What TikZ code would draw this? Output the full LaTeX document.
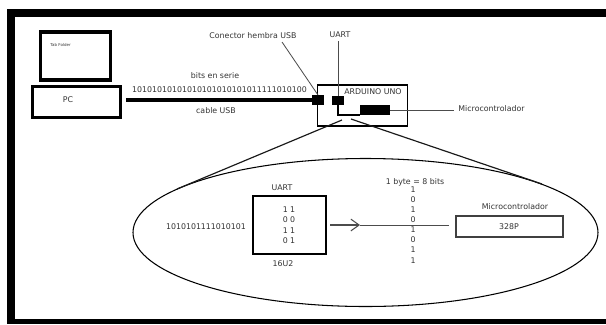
\documentclass[tikz,border=0pt]{standalone}
\usepackage{xcolor}
\usepackage{fontspec}
\setmainfont{DejaVu Sans}
\usetikzlibrary{arrows.meta,shapes.geometric}

\tikzset{
    hw/.style 2 args={minimum width=#1*0.03cm,minimum height=#2*0.03cm},
    box/.style={draw,rectangle,inner sep=0pt,outer sep=0pt,line width=1.1pt},
    chipbox/.style={fill=black,rectangle,inner sep=0pt,outer sep=0pt},
    label/.style={inner sep=0pt,text=black!80,font=\fontsize{6.7}{8}\selectfont},
    thinline/.style={black!70,line width=0.7pt},
    zoomline/.style={black!90,line width=1pt}
}

\begin{document}
\begin{tikzpicture}[x=0.03cm,y=-0.03cm]
    \useasboundingbox (0,0) rectangle (606,324);

    % marco negro
    \fill (7,9) rectangle (606,17);
    \fill (7,9) rectangle (15,324);
    \fill (7,319) rectangle (606,324);

    % PC
    \node (monitor) [box,line width=2.6pt,hw={70}{48}] at (75.5,56) {};
    \node (pc) [box,line width=1.8pt,hw={88}{31}] at (76.5,102) {};
    \node (pctext) [label] at (68,100) {PC};
    \node (tabtext) [label,font=\fontsize{3.4}{4}\selectfont] at (60.5,45) {Tab Folder};

    % placa Arduino
    \node (arduino) [box,hw={90}{41}] at (362.5,105.5) {};
    \node (usb) [chipbox,hw={12}{10}] at (318,100) {};
    \node (uartchip) [chipbox,hw={12}{9}] at (338,100.5) {};
    \node (chip) [chipbox,hw={30}{10}] at (375,110) {};
    \node (arduinotext) [label] at (373,92) {ARDUINO UNO};

    % textos de arriba
    \node (conector) [label] at (253,36) {Conector hembra USB};
    \node (uarttext) [label] at (340,35) {UART};
    \node (microtext) [label] at (491.5,108.5) {Microcontrolador};
    \node (serie) [label] at (215,76) {bits en serie};
    \node (bits) [label] at (219.5,90) {10101010101010101010101011111010100};
    \node (cabletext) [label] at (216,111) {cable USB};

    % puntos libres
    \coordinate (cablestart) at (126,100);
    \coordinate (conectorend) at (282,42);
    \coordinate (uartend) at (338,41);
    \coordinate (microend) at (454,110);
    \coordinate (zoomA) at (342,120);
    \coordinate (zoomB) at (177,189);
    \coordinate (zoomC) at (351,119);
    \coordinate (zoomD) at (542,184);

    % lineas de arriba
    \draw[line width=3pt] (cablestart) -- (usb.west);
    \draw[thinline] (conectorend) -- (usb.north);
    \draw[thinline] (uartend) -- (uartchip.north);
    \draw[line width=0.9pt] (uartchip.south) |- (chip.south west);
    \draw[thinline] (chip.east) -- (microend);

    % lupa
    \node (lupa) [draw,ellipse,inner sep=0pt,outer sep=0pt,line width=0.9pt,hw={465}{148}] at (365.5,232.5) {};
    \draw[zoomline] (zoomA) -- (zoomB);
    \draw[zoomline] (zoomC) -- (zoomD);

    % UART
    \node (uart) [box,hw={73}{58}] at (289.5,225) {};
    \node (uartlabel) [label] at (282,188) {UART};
    \node (u2) [label] at (283,264) {16U2};
    \node (serial) [label] at (206,227) {1010101111010101};
    \node (r1) [label] at (289,210) {1 1};
    \node (r2) [label] at (289,220) {0 0};
    \node (r3) [label] at (289,231) {1 1};
    \node (r4) [label] at (289,241) {0 1};

    % microcontrolador
    \node (micro) [box,draw=black!75,line width=0.9pt,hw={107}{21}] at (509.5,226.5) {};
    \node (microlabel) [label] at (515,207) {Microcontrolador};
    \node (p328) [label] at (509,227) {328P};

    % byte
    \node (byte) [label] at (415,182) {1 byte = 8 bits};
    \node (b1) [label] at (413,190) {1};
    \node (b2) [label] at (413,200) {0};
    \node (b3) [label] at (413,210) {1};
    \node (b4) [label] at (413,220) {0};
    \node (b5) [label] at (413,230) {1};
    \node (b6) [label] at (413,240) {0};
    \node (b7) [label] at (413,250) {1};
    \node (b8) [label] at (413,261) {1};

    % flecha
    \coordinate (arrowstart) at (330,225);
    \coordinate (arrowhead) at (360,225);
    \coordinate (arrowend) at (449,225);
    \draw[thinline,line width=0.9pt,-{Straight Barb[length=7pt,width=10pt]}] (arrowstart) -- (arrowhead);
    \draw[thinline] (arrowhead) -- (arrowend);
\end{tikzpicture}
\end{document}
